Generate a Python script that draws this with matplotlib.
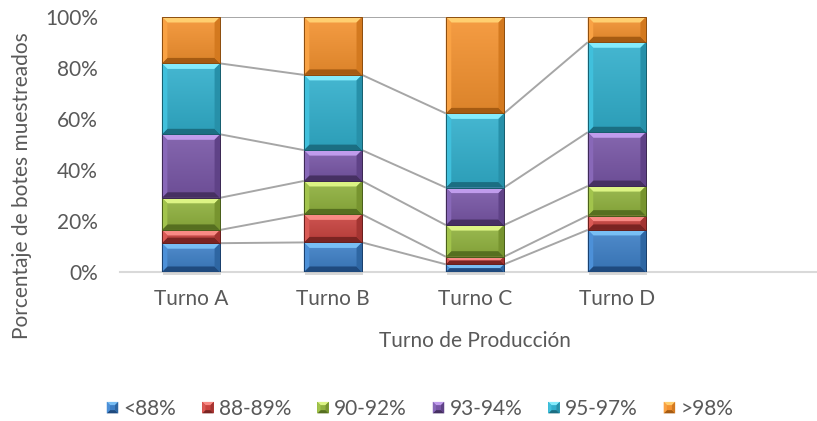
import matplotlib
matplotlib.use("Agg")
import matplotlib.pyplot as plt
from matplotlib.patches import Rectangle, Polygon
from matplotlib.colors import to_rgb
from matplotlib.legend_handler import HandlerBase
import numpy as np

# ---- data -------------------------------------------------------------
turnos = ["Turno A", "Turno B", "Turno C", "Turno D"]
rangos = ["<88%", "88-89%", "90-92%", "93-94%", "95-97%", ">98%"]
pct_lt88 = [11.3, 11.6, 3.0, 16.5]
pct_88_89 = [5.2, 11.0, 3.0, 5.6]
pct_90_92 = [12.6, 13.1, 12.4, 11.6]
pct_93_94 = [24.9, 12.1, 14.7, 21.1]
pct_95_97 = [27.8, 29.5, 29.1, 35.3]
pct_gt98 = [18.2, 22.7, 37.8, 9.9]
series = [pct_lt88, pct_88_89, pct_90_92, pct_93_94, pct_95_97, pct_gt98]

# bevel shading per series: top, left, face, right, bottom
shades = [
    ("#78BEF4", "#4C90D8", "#3D7FC6", "#2E66A2", "#1F4A7E"),
    ("#F88A84", "#DA5A55", "#C9433F", "#A33431", "#7A2422"),
    ("#DCF484", "#A2C44C", "#90B23E", "#77942F", "#566F20"),
    ("#C09CEC", "#8868B8", "#7856A6", "#5F4287", "#463062"),
    ("#84ECFC", "#40C0DC", "#31AFCC", "#2790A9", "#1B6E82"),
    ("#FFCF70", "#F9A244", "#F4922F", "#D3791F", "#A55B12"),
]

text_color = "#595959"
plt.rcParams["font.family"] = ["Lato", "DejaVu Sans"]
FS = 15

W, H, DPI = 817, 421, 100
fig = plt.figure(figsize=(W / DPI, H / DPI), dpi=DPI)
ax_l, ax_b, ax_w, ax_h = 120 / W, (H - 272) / H, (W - 120) / W, 255 / H
ax = fig.add_axes([ax_l, ax_b, ax_w, ax_h])

xlim = (-0.5, 4.41)
ax.set_xlim(*xlim)
ax.set_ylim(0, 100)

bar_w = 0.41
x = np.arange(len(turnos))

# data units per pixel, used to size the bevels
px_x = (xlim[1] - xlim[0]) / (ax_w * W)
px_y = 100 / (ax_h * H)
bev_px = 5.5


def shade(c, f):
    r = np.array(to_rgb(c))
    return tuple(np.clip(r * f if f < 1 else r + (1 - r) * (f - 1), 0, 1))


def bevel_block(axis, x0, y0, x1, y1, cols, bev=bev_px, z=3):
    top, left, face, right, bottom = cols
    hpx = (y1 - y0) / px_y
    wpx = (x1 - x0) / px_x
    b = min(bev, hpx / 2.0, wpx / 2.0)
    dx, dy = b * px_x, b * px_y
    # face with a soft vertical gradient
    grad = np.linspace(0, 1, 32)[:, None]
    c_top = np.array(shade(face, 1.10))
    c_bot = np.array(shade(face, 0.90))
    img = c_bot[None, None, :] * (1 - grad[..., None]) + c_top[None, None, :] * grad[..., None]
    axis.imshow(img, extent=(x0, x1, y0, y1), origin="lower", aspect="auto",
                interpolation="bilinear", zorder=z)
    polys = [
        ([(x0, y1), (x1, y1), (x1 - dx, y1 - dy), (x0 + dx, y1 - dy)], top),
        ([(x0, y0), (x1, y0), (x1 - dx, y0 + dy), (x0 + dx, y0 + dy)], bottom),
        ([(x0, y0), (x0, y1), (x0 + dx, y1 - dy), (x0 + dx, y0 + dy)], left),
        ([(x1, y0), (x1, y1), (x1 - dx, y1 - dy), (x1 - dx, y0 + dy)], right),
    ]
    for pts, c in polys:
        axis.add_patch(Polygon(pts, closed=True, facecolor=c, edgecolor="none",
                               zorder=z + 0.1, antialiased=True))
    axis.add_patch(Rectangle((x0, y0), x1 - x0, y1 - y0, facecolor="none",
                             edgecolor=shade(bottom, 0.85), lw=0.7, zorder=z + 0.2))


cum = np.zeros(len(turnos))
tops = []
for vals, cols in zip(series, shades):
    vals = np.asarray(vals)
    bars = ax.bar(x, vals, bar_w, bottom=cum, color="none", edgecolor="none")
    for rect in bars:
        x0, y0 = rect.get_x(), rect.get_y()
        bevel_block(ax, x0, y0, x0 + rect.get_width(), y0 + rect.get_height(), cols)
    cum = cum + vals
    tops.append(cum.copy())

# soft shadow under each bar
for xi in x:
    ax.add_patch(Rectangle((xi - bar_w / 2 + 1 * px_x, -2.5 * px_y), bar_w, 2.5 * px_y,
                           facecolor="#BFBFBF", edgecolor="none", alpha=0.6,
                           zorder=2, clip_on=False))

# series lines between adjacent bars
for t in tops:
    for i in range(len(x) - 1):
        ax.plot([x[i] + bar_w / 2, x[i + 1] - bar_w / 2], [t[i], t[i + 1]],
                color="#A6A6A6", lw=1.4, zorder=2, solid_capstyle="butt")

ax.set_xlim(*xlim)
ax.set_ylim(0, 100)

for s in ["top", "right", "left"]:
    ax.spines[s].set_visible(False)
ax.spines["bottom"].set_color("#D9D9D9")
ax.spines["bottom"].set_linewidth(1.5)
ax.spines["bottom"].set_zorder(1)

ax.set_yticks(np.arange(0, 101, 20))
ax.set_yticklabels([f"{v}%" for v in range(0, 101, 20)])
ax.set_xticks(x)
ax.set_xticklabels(turnos)
ax.tick_params(axis="both", length=0, labelsize=FS, colors=text_color)
ax.tick_params(axis="y", pad=16)
ax.tick_params(axis="x", pad=12)

fig.text(22 / W, 1 - 186 / H, "Porcentaje de botes muestreados", rotation=90,
         ha="center", va="center", fontsize=FS, color=text_color)
fig.text(475 / W, 1 - 341 / H, "Turno de Producción", ha="center", va="center",
         fontsize=FS, color=text_color)


class BevelHandler(HandlerBase):
    def __init__(self, cols):
        super().__init__()
        self.cols = cols

    def create_artists(self, legend, orig_handle, xdescent, ydescent, width,
                       height, fontsize, trans):
        top, left, face, right, bottom = self.cols
        s = min(width, height)
        x0 = -xdescent + (width - s) / 2
        y0 = -ydescent + (height - s) / 2
        x1, y1 = x0 + s, y0 + s
        b = s * 0.28
        arts = [Rectangle((x0, y0), s, s, facecolor=face, edgecolor="none",
                          transform=trans)]
        polys = [
            ([(x0, y1), (x1, y1), (x1 - b, y1 - b), (x0 + b, y1 - b)], top),
            ([(x0, y0), (x1, y0), (x1 - b, y0 + b), (x0 + b, y0 + b)], bottom),
            ([(x0, y0), (x0, y1), (x0 + b, y1 - b), (x0 + b, y0 + b)], left),
            ([(x1, y0), (x1, y1), (x1 - b, y1 - b), (x1 - b, y0 + b)], right),
        ]
        for pts, c in polys:
            arts.append(Polygon(pts, closed=True, facecolor=c, edgecolor="none",
                                transform=trans))
        return arts


handles = [Rectangle((0, 0), 1, 1, facecolor=c[2]) for c in shades]
handler_map = {h: BevelHandler(c) for h, c in zip(handles, shades)}
fig.legend(handles, rangos, handler_map=handler_map, loc="center",
           bbox_to_anchor=(420 / W, 1 - 409 / H), ncol=6, frameon=False,
           fontsize=FS, labelcolor=text_color, handlelength=0.55,
           handleheight=0.55, handletextpad=0.25, columnspacing=1.25)

fig.savefig("out.png", dpi=DPI)
